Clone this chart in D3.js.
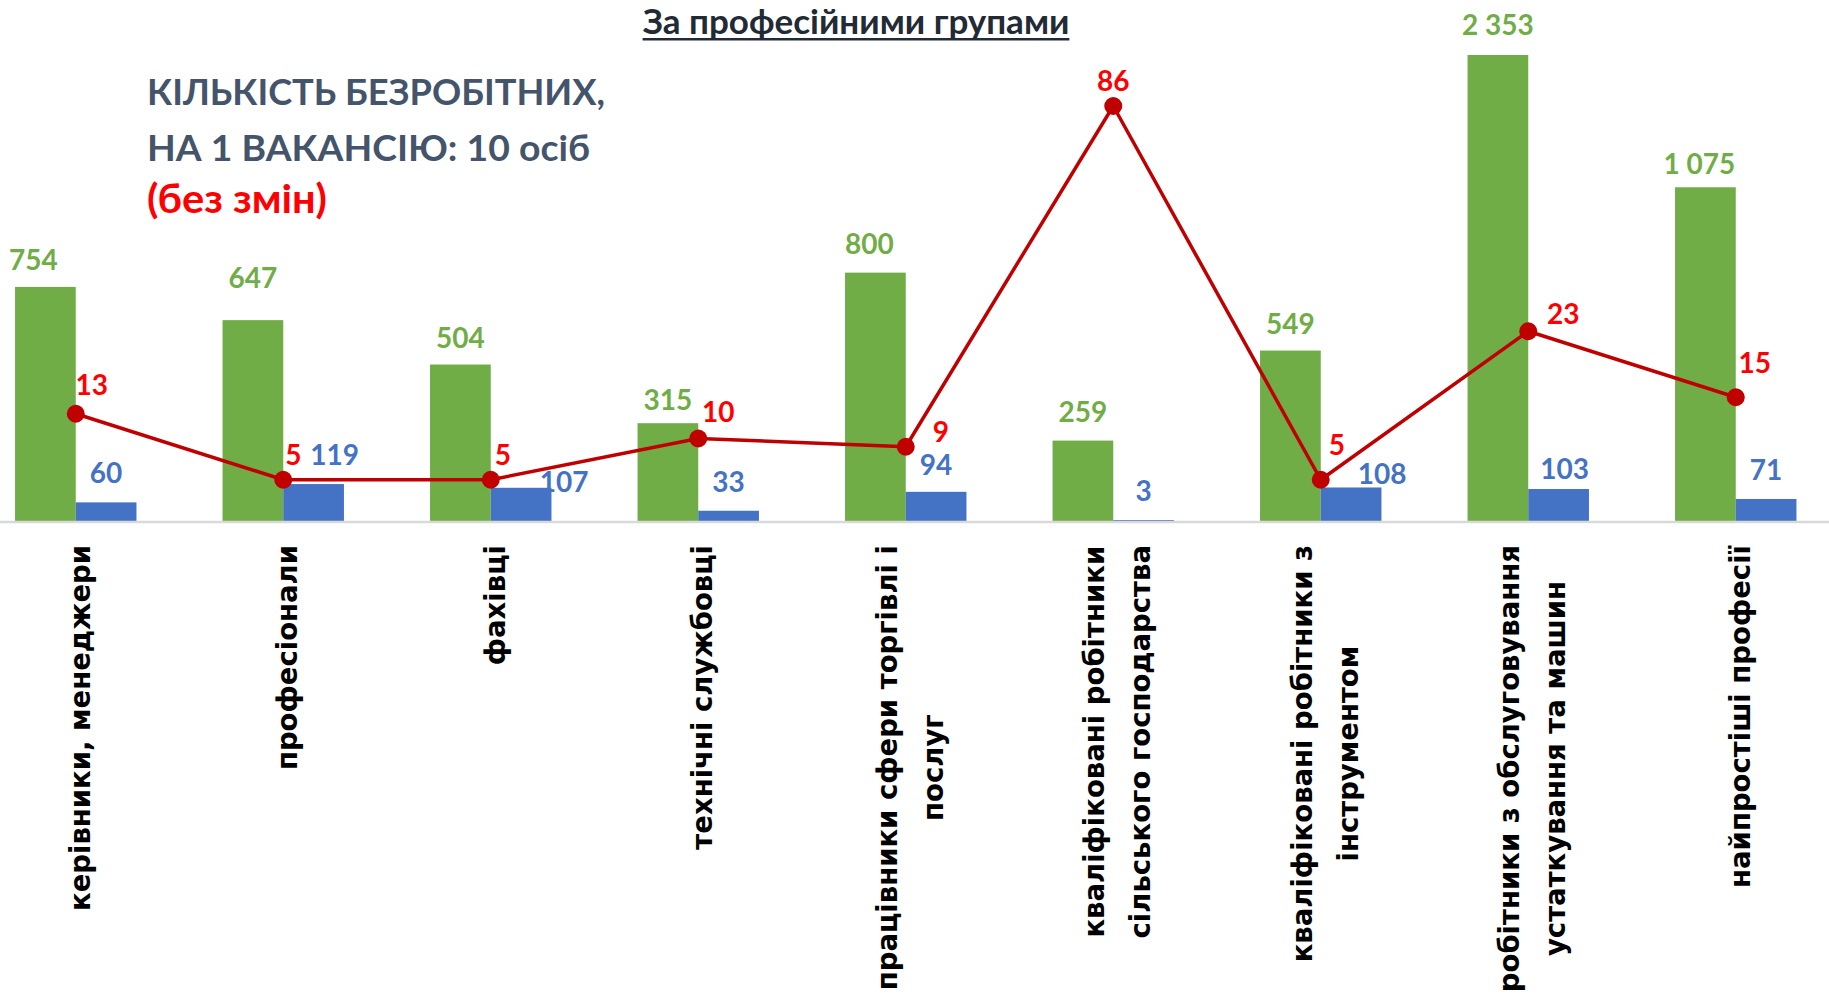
<!DOCTYPE html>
<html>
<head>
<meta charset="utf-8">
<script src="https://cdn.jsdelivr.net/npm/d3@7"></script>
<style>
  html, body { margin: 0; padding: 0; background: #ffffff; overflow: hidden; }
  svg { display: block; }
</style>
</head>
<body>
<svg id="chart" width="1829" height="998"></svg>
<script>
// Occupational groups (line breaks mark the wrapped axis labels)
const categories = [
  "керівники, менеджери",
  "професіонали",
  "фахівці",
  "технічні службовці",
  "працівники сфери торгівлі і\nпослуг",
  "кваліфіковані робітники\nсільського господарства",
  "кваліфіковані робітники з\nінструментом",
  "робітники з обслуговування\nустаткування та машин",
  "найпростіші професії"
];
// Registered unemployed, vacancies, and unemployed per vacancy
const unemployed = [754, 647, 504, 315, 800, 259, 549, 2353, 1075];
const vacancies  = [60, 119, 107, 33, 94, 3, 108, 103, 71];
const perVacancy = [13, 5, 5, 10, 9, 86, 5, 23, 15];

const titleText = "За професійними групами";
const noteLines = ["КІЛЬКІСТЬ БЕЗРОБІТНИХ,", "НА 1 ВАКАНСІЮ: 10 осіб"];
const noteChange = "(без змін)";

// Hand-placed label offsets [dx, dy] in px
const unemployedShift = [[-12, 0], [0, -15], [0, 0], [0, 4], [-6, -2], [0, -2], [0, 0], [0, -3], [-6, 4]];
const vacancyShift    = [[0, 0], [21, 0], [43, 23], [0, 0], [0, 2], [0, 0], [31, 16], [6, 9], [0, 0]];
const ratioShift      = [[16, -30], [10, -26], [12, -26], [20, -28], [35, -16], [0, -26], [16, -36], [35, -18], [19, -35]];

const W = 1829, H = 998, baseY = 521;
const GREEN = "#70AD47", BLUE = "#4472C4", LINE_RED = "#C00000", LABEL_RED = "#FF0000";
const NUM_FONT = "Lato, 'Open Sans', sans-serif";

const fmt = d3.formatLocale({ decimal: ",", thousands: " ", grouping: [3], currency: ["", ""] }).format(",d");

const svg = d3.select("#chart");

const rows = categories.map((c, i) => ({ i, cat: c, u: unemployed[i], v: vacancies[i], r: perVacancy[i] }));

const x = d3.scaleBand().domain(d3.range(categories.length)).range([-28, 1839.5]);
const sub = d3.scaleBand().domain(["u", "v"]).range([0, x.bandwidth()]).paddingOuter(0.709);
// Bar scale, compressed above 1100 so the tallest group stays on the page
const y = d3.scaleLinear().domain([0, 1100, 2353]).range([baseY, 179.5, 55]);
// Ratio scale, compressed above 23
const yR = d3.scaleLinear().domain([0, 23, 86]).range([baseY, 331.25, 106]);
const cx = i => x(i) + x.bandwidth() / 2;

// Title
const title = svg.append("text")
  .attr("x", 856).attr("y", 34)
  .attr("text-anchor", "middle")
  .attr("font-family", NUM_FONT).attr("font-weight", 700)
  .attr("font-size", 35).attr("fill", "#222A35")
  .text(titleText);
const tb = title.node().getBBox();
svg.append("rect")
  .attr("x", tb.x).attr("y", 38).attr("width", tb.width).attr("height", 2.5)
  .attr("fill", "#222A35");

// Note block
const noteWidths = [458, 443];
noteLines.forEach((t, k) => {
  svg.append("text")
    .attr("x", 147).attr("y", 105 + k * 56)
    .attr("font-family", NUM_FONT).attr("font-weight", 700)
    .attr("font-size", 37).attr("fill", "#44546A")
    .attr("textLength", noteWidths[k]).attr("lengthAdjust", "spacingAndGlyphs")
    .text(t);
});
svg.append("text")
  .attr("x", 147).attr("y", 213)
  .attr("font-family", NUM_FONT).attr("font-weight", 700)
  .attr("font-size", 41).attr("fill", "#FF0000")
  .attr("textLength", 180).attr("lengthAdjust", "spacingAndGlyphs")
  .text(noteChange);

// Bars
const g = svg.append("g");
g.selectAll("rect.u").data(rows).join("rect")
  .attr("class", "u")
  .attr("x", d => x(d.i) + sub("u")).attr("width", sub.bandwidth())
  .attr("y", d => y(d.u)).attr("height", d => baseY - y(d.u))
  .attr("fill", GREEN);
g.selectAll("rect.v").data(rows).join("rect")
  .attr("class", "v")
  .attr("x", d => x(d.i) + sub("v")).attr("width", sub.bandwidth())
  .attr("y", d => y(d.v)).attr("height", d => baseY - y(d.v))
  .attr("fill", BLUE);

// Category axis line
svg.append("line")
  .attr("x1", 0).attr("x2", W).attr("y1", baseY + 1).attr("y2", baseY + 1)
  .attr("stroke", "#D9D9D9").attr("stroke-width", 2.5);

// Ratio line and markers
svg.append("path")
  .datum(rows)
  .attr("d", d3.line().x(d => cx(d.i)).y(d => yR(d.r)))
  .attr("fill", "none").attr("stroke", LINE_RED).attr("stroke-width", 3.5)
  .attr("stroke-linejoin", "round");
svg.selectAll("circle.r").data(rows).join("circle")
  .attr("class", "r")
  .attr("cx", d => cx(d.i)).attr("cy", d => yR(d.r)).attr("r", 9)
  .attr("fill", LINE_RED);

// Value labels
function label(cls, xf, yf, txt, color) {
  svg.selectAll("text." + cls).data(rows).join("text")
    .attr("class", cls)
    .attr("x", xf).attr("y", yf)
    .attr("text-anchor", "middle").attr("dominant-baseline", "central")
    .attr("font-family", NUM_FONT).attr("font-weight", 700)
    .attr("font-size", 28).attr("fill", color)
    .text(txt);
}
label("lu",
  d => x(d.i) + sub("u") + sub.bandwidth() / 2 + unemployedShift[d.i][0],
  d => y(d.u) - 28 + unemployedShift[d.i][1],
  d => fmt(d.u), GREEN);
label("lv",
  d => x(d.i) + sub("v") + sub.bandwidth() / 2 + vacancyShift[d.i][0],
  d => y(d.v) - 30 + vacancyShift[d.i][1],
  d => fmt(d.v), BLUE);
label("lr",
  d => cx(d.i) + ratioShift[d.i][0],
  d => yR(d.r) + ratioShift[d.i][1],
  d => fmt(d.r), LABEL_RED);

// Rotated category labels, top-aligned under the axis
const AX_FONT = 27.5, AX_LINE = 46, axTop = 545;
rows.forEach(d => {
  const lines = d.cat.split("\n");
  const grp = svg.append("g");
  const texts = lines.map(t => grp.append("text")
    .attr("font-family", "'DejaVu Sans', Verdana, sans-serif")
    .attr("font-weight", 700).attr("font-size", AX_FONT)
    .attr("fill", "#000000")
    .attr("text-anchor", "middle").attr("dominant-baseline", "central")
    .text(t));
  const maxLen = d3.max(texts, t => t.node().getComputedTextLength());
  const yc = axTop + maxLen / 2;
  texts.forEach((t, k) => {
    const xc = cx(d.i) + 4 + (k - (lines.length - 1) / 2) * AX_LINE;
    t.attr("transform", `translate(${xc},${yc}) rotate(-90)`);
  });
});
</script>
</body>
</html>
